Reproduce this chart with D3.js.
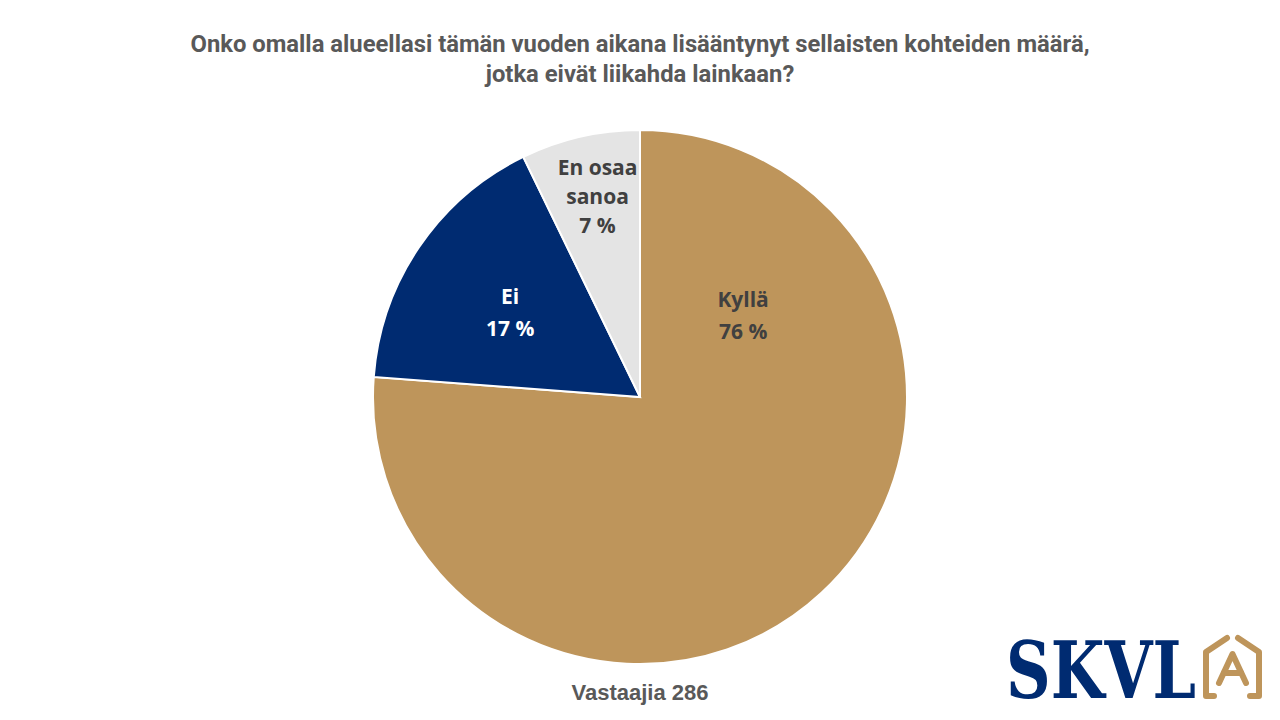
<!DOCTYPE html>
<html>
<head>
<meta charset="utf-8">
<script src="https://cdn.jsdelivr.net/npm/d3@7"></script>
<style>
  body { margin: 0; background: #fff; }
  svg { display: block; }
</style>
</head>
<body>
<div id="chart"></div>
<script>
// answer shares, start at 12 o'clock and go clockwise
var categories = ["Kyllä", "Ei", "En osaa sanoa"];
var shares = [76.2, 16.6, 7.2];
var sliceColors = ["#BE955B", "#002B71", "#E4E4E4"];
var labelColors = ["#404040", "#FFFFFF", "#404040"];
var titleLines = [
  "Onko omalla alueellasi tämän vuoden aikana lisääntynyt sellaisten kohteiden määrä,",
  "jotka eivät liikahda lainkaan?"
];
var respondents = 286;

var width = 1280, height = 720;

var svg = d3.select("#chart")
  .append("svg")
    .attr("width", width)
    .attr("height", height);

// title
svg.append("g")
  .selectAll("text")
  .data(titleLines)
  .enter()
  .append("text")
    .attr("x", 640)
    .attr("y", (d, i) => 52 + i * 30)
    .attr("text-anchor", "middle")
    .style("font-family", "Roboto")
    .style("font-weight", "bold")
    .style("font-size", "23.8px")
    .style("fill", "#595959")
    .text(d => d);

var cx = 640, cy = 397, r = 267;

var pie = d3.pie().sort(null).value(d => d.v);
var arc = d3.arc().innerRadius(0).outerRadius(r);

var data = categories.map((c, i) => ({ name: c, v: shares[i], color: sliceColors[i], tc: labelColors[i] }));
var arcs = pie(data);

var g = svg.append("g")
  .attr("transform", "translate(" + cx + "," + cy + ")");

g.selectAll("path")
  .data(arcs)
  .enter()
  .append("path")
    .attr("d", arc)
    .style("fill", d => d.data.color)
    .style("stroke", "#fff")
    .style("stroke-width", 2);

// label spots: angle (deg from top) and radius fraction, as excel put them
var labelSpot = [[52, 0.49], [303, 0.58], [348, 0.765]];
var fmt = d3.format(".0f");

g.selectAll(".lbl")
  .data(arcs)
  .enter()
  .append("text")
    .attr("class", "lbl")
    .attr("transform", (d, i) => {
      var a = labelSpot[i][0] * Math.PI / 180;
      var rr = r * labelSpot[i][1];
      return "translate(" + (Math.sin(a) * rr) + "," + (-Math.cos(a) * rr) + ")";
    })
    .attr("text-anchor", "middle")
    .style("font-family", "Open Sans")
    .style("font-weight", "bold")
    .style("font-size", "21px")
    .style("fill", d => d.data.tc)
    .each(function (d) {
      var lines = d.data.name == "En osaa sanoa" ? ["En osaa", "sanoa"] : [d.data.name];
      lines.push(fmt(d.data.v) + " %");
      var step = lines.length > 2 ? 29 : 32;
      var t = d3.select(this);
      var off = -(lines.length - 1) * step / 2;
      lines.forEach((l, j) => {
        t.append("tspan")
          .attr("x", 0)
          .attr("y", off + j * step + 7)
          .text(l);
      });
    });

// respondents note
svg.append("text")
  .attr("x", 640)
  .attr("y", 700)
  .attr("text-anchor", "middle")
  .style("font-family", "Liberation Sans")
  .style("font-weight", "bold")
  .style("font-size", "22px")
  .style("fill", "#595959")
  .text("Vastaajia " + respondents);

// logo
var logo = svg.append("g");
logo.append("text")
  .attr("x", 1006)
  .attr("y", 698)
  .style("font-family", "DejaVu Serif")
  .style("font-weight", "bold")
  .style("font-size", "78px")
  .attr("textLength", 190)
  .attr("lengthAdjust", "spacingAndGlyphs")
  .style("fill", "#002B71")
  .text("SKVL");
var gold = "#BE955B";
[
  "M1214,696 L1206,696 L1206,652 L1227,638",
  "M1238,638 L1259,652 L1259,696 L1250,696",
  "M1219,683 L1232.5,654 L1246,683",
  "M1224,673 L1241,673"
].forEach(p => {
  logo.append("path")
    .attr("d", p)
    .style("fill", "none")
    .style("stroke", gold)
    .style("stroke-width", 6)
    .style("stroke-linecap", "round")
    .style("stroke-linejoin", "round");
});
</script>
</body>
</html>
